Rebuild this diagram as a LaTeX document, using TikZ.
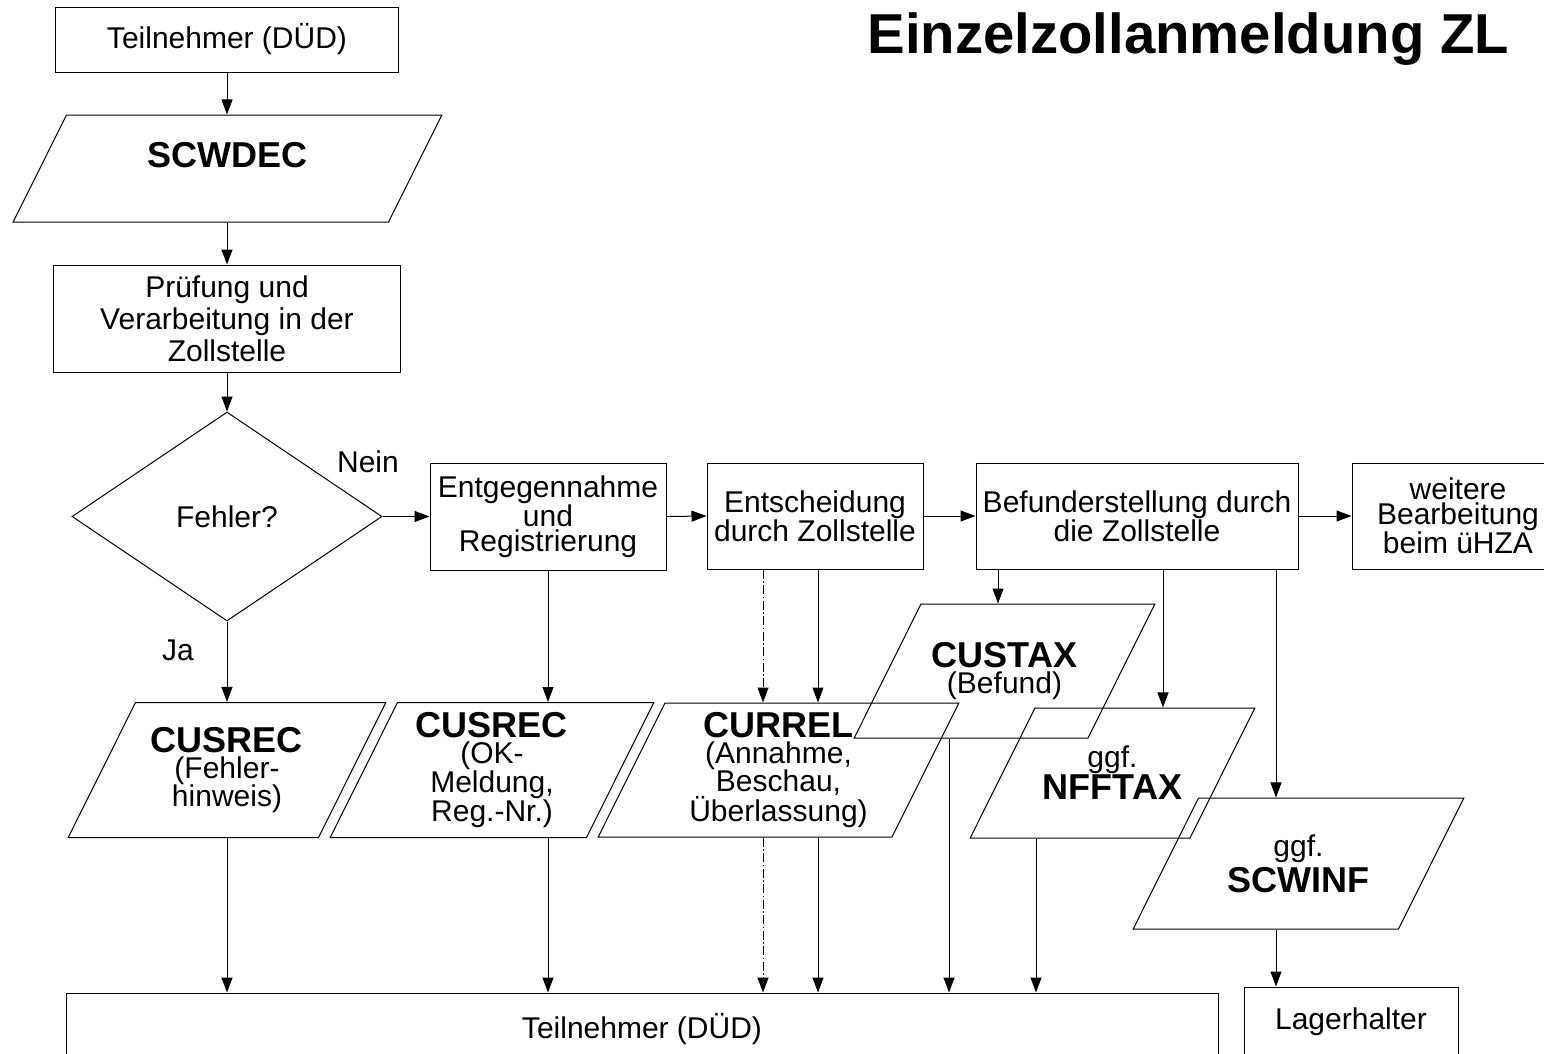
\documentclass[tikz,border=0pt]{standalone}
\usepackage{fontspec}
\setmainfont{Liberation Sans}
\usetikzlibrary{shapes.geometric,arrows.meta}
\newcommand{\fett}{\fontsize{36}{26}\selectfont\bfseries}
\newcommand{\feld}[3]{\parbox[c][#1pt][c]{#2pt}{\centering #3}}

\begin{document}
\begin{tikzpicture}[x=1pt,y=-1pt,
  box/.style={rectangle, draw=black, line width=1pt, align=center, font=\fontsize{30}{25}\selectfont, inner sep=2pt},
  datei/.style={trapezium, trapezium left angle=63.5, trapezium right angle=116.5, draw=black, line width=1pt, font=\fontsize{30}{26}\selectfont, inner sep=0pt},
  frage/.style={diamond, draw=black, line width=1pt, font=\fontsize{30}{26}\selectfont, inner sep=0pt},
  pfeil/.style={-{Triangle[length=15pt,width=11pt]}, line width=1pt},
  strichpunkt/.style={pfeil, dash pattern=on 9pt off 2.5pt on 1.5pt off 2.5pt},
  lbl/.style={font=\fontsize{30}{26}\selectfont}]
\useasboundingbox (0,0) rectangle (1544,1053);
\clip (0,0) rectangle (1544,1053);

% title
\node [font=\fontsize{56.3}{60}\selectfont\bfseries, anchor=base east, inner sep=0pt] (titel) at (1509,53) {Einzelzollanmeldung ZL};

% left column
\node [box, minimum width=343, minimum height=65] (tn1) at (227,39.5) {Teilnehmer (DÜD)};
\node [datei] (scwdec) at (227.5,168.5) {\parbox[c][107pt][t]{322pt}{\centering\vspace*{27pt}\fett SCWDEC}};
\node [box, minimum width=347, minimum height=107, font=\fontsize{30}{32}\selectfont] (pruef) at (227,318.5) {Prüfung und\\Verarbeitung in der\\Zollstelle};
\node [frage, minimum width=310, minimum height=209] (fehler) at (227,516.5) {Fehler?};
\node [lbl] (nein) at (368,462) {Nein};
\node [lbl] (ja) at (178,650) {Ja};

% row of processing steps
\node [box, minimum width=236, minimum height=107] (entg) at (548,516.5) {Entgegennahme\\und\\Registrierung};
\node [box, minimum width=216, minimum height=106] (entsch) at (815,516) {Entscheidung\\durch Zollstelle};
\node [box, minimum width=322, minimum height=106] (befund) at (1137,516) {Befunderstellung durch\\die Zollstelle};
\node [box, minimum width=212, minimum height=106] (weiter) at (1458,516) {weitere\\Bearbeitung\\beim üHZA};

% messages
\node [datei] (cusrecf) at (227,770) {\feld{135}{183}{{\fett CUSREC}\\(Fehler-\\hinweis)}};
\node [datei] (cusrecok) at (492,770) {\feld{135}{189}{{\fett CUSREC}\\(OK-\\Meldung,\\Reg.-Nr.)}};
\node [datei] (currel) at (778.5,770) {\feld{134}{227}{{\fett CURREL}\\(Annahme,\\Beschau,\\Überlassung)}};
\node [datei] (custax) at (1004.5,671) {\feld{134}{167}{{\fett CUSTAX}\\(Befund)}};
\node [datei] (nfftax) at (1112.5,773) {\feld{130}{155}{ggf.\\{\fett NFFTAX}}};
\node [datei] (scwinf) at (1298.5,863.5) {\feld{131}{200}{ggf.\\[4pt]{\fett SCWINF}}};

% receivers
\node [box, minimum width=1152, minimum height=72] (tn2) at (642,1029) {Teilnehmer (DÜD)};
\node [box, minimum width=214, minimum height=70] (lager) at (1351,1022) {Lagerhalter};

% x positions of the vertical connectors
\coordinate (xa) at (763,0);
\coordinate (xb) at (818,0);
\coordinate (xc) at (998,0);
\coordinate (xd) at (1163,0);
\coordinate (xe) at (1276,0);
\coordinate (xf) at (949,0);
\coordinate (xg) at (1036,0);

\draw [pfeil] (tn1.south) -- (tn1.south |- scwdec.north);
\draw [pfeil] (tn1.south |- scwdec.south) -- (pruef.north);
\draw [pfeil] (pruef.south) -- (fehler.north);
\draw [pfeil] (fehler.east) -- (entg.west);
\draw [pfeil] (entg.east) -- (entsch.west);
\draw [pfeil] (entsch.east) -- (befund.west);
\draw [pfeil] (befund.east) -- (weiter.west);

\draw [pfeil] (fehler.south) -- (fehler.south |- cusrecf.north);
\draw [pfeil] (entg.south) -- (entg.south |- cusrecok.north);
\draw [strichpunkt] (entsch.south -| xa) -- (currel.north -| xa);
\draw [pfeil] (entsch.south -| xb) -- (currel.north -| xb);
\draw [pfeil] (befund.south -| xc) -- (custax.north -| xc);
\draw [pfeil] (befund.south -| xd) -- (nfftax.north -| xd);
\draw [pfeil] (befund.south -| xe) -- (scwinf.north -| xe);

\draw [pfeil] (fehler.south |- cusrecf.south) -- (fehler.south |- tn2.north);
\draw [pfeil] (entg.south |- cusrecok.south) -- (entg.south |- tn2.north);
\draw [strichpunkt] (currel.south -| xa) -- (tn2.north -| xa);
\draw [pfeil] (currel.south -| xb) -- (tn2.north -| xb);
\draw [pfeil] (custax.south -| xf) -- (tn2.north -| xf);
\draw [pfeil] (nfftax.south -| xg) -- (tn2.north -| xg);
\draw [pfeil] (scwinf.south -| xe) -- (lager.north -| xe);
\end{tikzpicture}
\end{document}
